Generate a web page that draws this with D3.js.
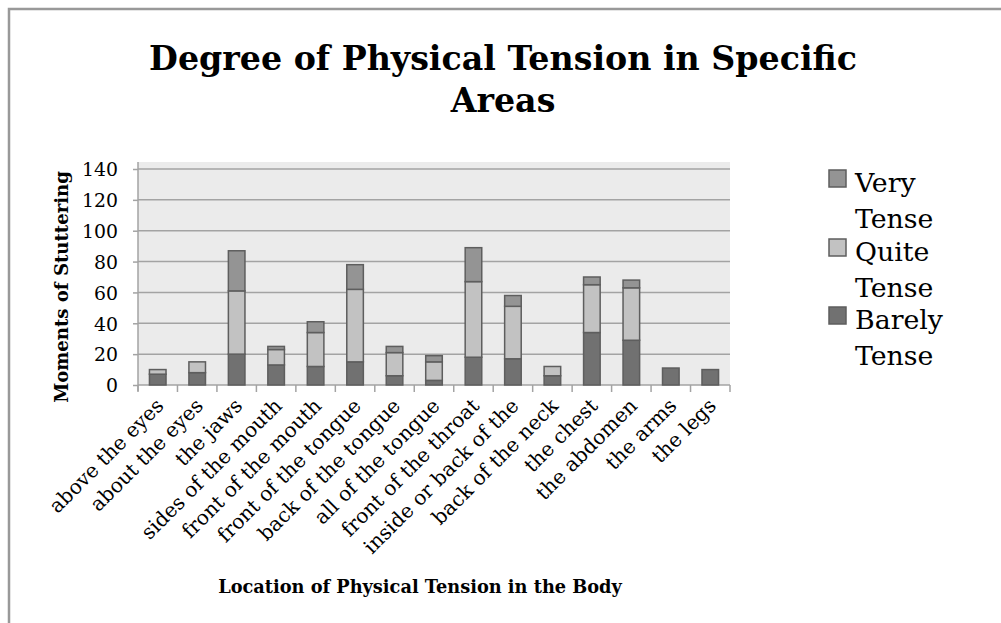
<!DOCTYPE html>
<html>
<head>
<meta charset="utf-8">
<script src="https://cdn.jsdelivr.net/npm/d3@7"></script>
<style>
  body { margin: 0; background: #fff; }
  svg { display: block; }
  text { font-family: "DejaVu Serif", "Liberation Serif", serif; fill: #000; }
</style>
</head>
<body>
<div id="chart"></div>
<script>
const categories = ["above the eyes", "about the eyes", "the jaws", "sides of the mouth",
  "front of the mouth", "front of the tongue", "back of the tongue", "all of the tongue",
  "front of the throat", "inside or back of the", "back of the neck", "the chest",
  "the abdomen", "the arms", "the legs"];
const barelyTense = [7, 8, 20, 13, 12, 15, 6, 3, 18, 17, 6, 34, 29, 11, 10];
const quiteTense  = [3, 7, 41, 10, 22, 47, 15, 12, 49, 34, 6, 31, 34, 0, 0];
const veryTense   = [0, 0, 26, 2, 7, 16, 4, 4, 22, 7, 0, 5, 5, 0, 0];
const seriesNames = ["Barely Tense", "Quite Tense", "Very Tense"];
const yTicks = [0, 20, 40, 60, 80, 100, 120, 140];

const W = 1001, H = 623;
const plot = { left: 138, right: 730, top: 162, bottom: 385 };

const svg = d3.select("#chart").append("svg")
  .attr("width", W)
  .attr("height", H);

// scale a group of labels so that one sample string gets the wanted width
function fitFont(sel, sampleNode, targetWidth) {
  const size = +d3.select(sampleNode).attr("font-size");
  const w = sampleNode.getComputedTextLength();
  const newSize = size * targetWidth / w;
  sel.attr("font-size", newSize);
  return newSize;
}

// outer frame (only top and left edges show)
svg.append("path")
  .attr("d", `M9,${H} L9,9 L${W},9`)
  .attr("fill", "none")
  .attr("stroke", "#999")
  .attr("stroke-width", 2.5);

const rows = categories.map((c, i) => ({
  cat: c,
  "Barely Tense": barelyTense[i],
  "Quite Tense": quiteTense[i],
  "Very Tense": veryTense[i]
}));

const stacked = d3.stack().keys(seriesNames)(rows);

const xScale = d3.scaleBand()
  .domain(categories)
  .range([plot.left, plot.right])
  .paddingInner(0.58)
  .paddingOuter(0.29);

const yScale = d3.scaleLinear()
  .domain([0, 140])
  .range([plot.bottom, plot.bottom - 216]);

const color = d3.scaleOrdinal()
  .domain(seriesNames)
  .range(["#717171", "#c2c2c2", "#949494"]);

// plot background
svg.append("rect")
  .attr("x", plot.left)
  .attr("y", plot.top)
  .attr("width", plot.right - plot.left)
  .attr("height", plot.bottom - plot.top)
  .attr("fill", "#ebebeb");

// gridlines
svg.append("g")
  .selectAll("line")
  .data(yTicks.slice(1))
  .enter()
  .append("line")
  .attr("x1", plot.left)
  .attr("x2", plot.right)
  .attr("y1", d => yScale(d))
  .attr("y2", d => yScale(d))
  .attr("stroke", "#a3a3a3")
  .attr("stroke-width", 1.5);

// y axis
const yAxis = d3.axisLeft(yScale)
  .tickValues(yTicks)
  .tickSize(5)
  .tickPadding(15);

const yG = svg.append("g")
  .attr("transform", `translate(${plot.left},0)`)
  .call(yAxis);
yG.select(".domain").remove();
yG.append("line")
  .attr("x1", 0).attr("x2", 0)
  .attr("y1", plot.top).attr("y2", plot.bottom + 6)
  .attr("stroke", "#a3a3a3").attr("stroke-width", 1.5);
yG.selectAll(".tick line").attr("stroke", "#a3a3a3").attr("stroke-width", 1.5);
const yLabels = yG.selectAll(".tick text")
  .attr("font-family", "DejaVu Serif, serif")
  .attr("font-size", 18)
  .attr("fill", "#000")
  .attr("dy", "0.36em");
fitFont(yLabels, yLabels.filter(d => d === 140).node(), 36);

// x axis
const xAxis = d3.axisBottom(xScale).tickSize(0).tickFormat("");
const xG = svg.append("g")
  .attr("transform", `translate(0,${plot.bottom})`)
  .call(xAxis);
xG.select(".domain").remove();
xG.append("line")
  .attr("x1", plot.left).attr("x2", plot.right)
  .attr("y1", 0).attr("y2", 0)
  .attr("stroke", "#a3a3a3").attr("stroke-width", 1.5);

const step = xScale.step();
xG.selectAll(".boundary")
  .data(d3.range(categories.length + 1))
  .enter()
  .append("line")
  .attr("x1", i => plot.left + i * step)
  .attr("x2", i => plot.left + i * step)
  .attr("y1", 0).attr("y2", 7)
  .attr("stroke", "#a3a3a3").attr("stroke-width", 1.5);

const xLabels = xG.selectAll(".xlab")
  .data(categories)
  .enter()
  .append("text")
  .attr("text-anchor", "end")
  .attr("font-size", 16)
  .attr("transform", d => `translate(${xScale(d) + xScale.bandwidth() / 2 + 7},${22}) rotate(-45)`)
  .text(d => d);
fitFont(xLabels, xLabels.filter(d => d === "front of the tongue").node(), 193);

// bars
svg.append("g")
  .selectAll("g")
  .data(stacked)
  .enter()
  .append("g")
  .attr("fill", d => color(d.key))
  .selectAll("rect")
  .data(d => d.filter(p => p[1] - p[0] > 0))
  .enter()
  .append("rect")
  .attr("x", d => xScale(d.data.cat))
  .attr("y", d => yScale(d[1]))
  .attr("width", xScale.bandwidth())
  .attr("height", d => yScale(d[0]) - yScale(d[1]))
  .attr("stroke", "#5e5e5e")
  .attr("stroke-width", 1.5);

// title
const titles = svg.selectAll(".title")
  .data(["Degree of Physical Tension in Specific", "Areas"])
  .enter()
  .append("text")
  .attr("class", "title")
  .attr("x", 503)
  .attr("y", (d, i) => 70 + i * 42)
  .attr("text-anchor", "middle")
  .attr("font-size", 30)
  .attr("font-weight", "bold")
  .text(d => d);
fitFont(titles, titles.filter((d, i) => i === 0).node(), 708);

// axis titles
const yTitle = svg.append("text")
  .attr("transform", `translate(68,${287}) rotate(-90)`)
  .attr("text-anchor", "middle")
  .attr("font-size", 16)
  .attr("font-weight", "bold")
  .text("Moments of Stuttering");
fitFont(yTitle, yTitle.node(), 232);

const xTitle = svg.append("text")
  .attr("x", 420)
  .attr("y", 593)
  .attr("text-anchor", "middle")
  .attr("font-size", 16)
  .attr("font-weight", "bold")
  .text("Location of Physical Tension in the Body");
fitFont(xTitle, xTitle.node(), 404);

// legend
const legendItems = [
  { key: "Very Tense", lines: ["Very", "Tense"], y: 170 },
  { key: "Quite Tense", lines: ["Quite", "Tense"], y: 239 },
  { key: "Barely Tense", lines: ["Barely", "Tense"], y: 307 }
];
const legend = svg.append("g");
legendItems.forEach(item => {
  legend.append("rect")
    .attr("x", 829)
    .attr("y", item.y)
    .attr("width", 17)
    .attr("height", 17)
    .attr("fill", color(item.key))
    .attr("stroke", "#5e5e5e")
    .attr("stroke-width", 1.5);
  item.lines.forEach((ln, j) => {
    legend.append("text")
      .attr("class", "legend-text")
      .attr("x", 855)
      .attr("y", item.y + 22 + j * 36)
      .attr("font-size", 22)
      .text(ln);
  });
});
const legendTexts = legend.selectAll(".legend-text");
fitFont(legendTexts, legendTexts.filter(function () { return this.textContent === "Barely"; }).node(), 88);
</script>
</body>
</html>
